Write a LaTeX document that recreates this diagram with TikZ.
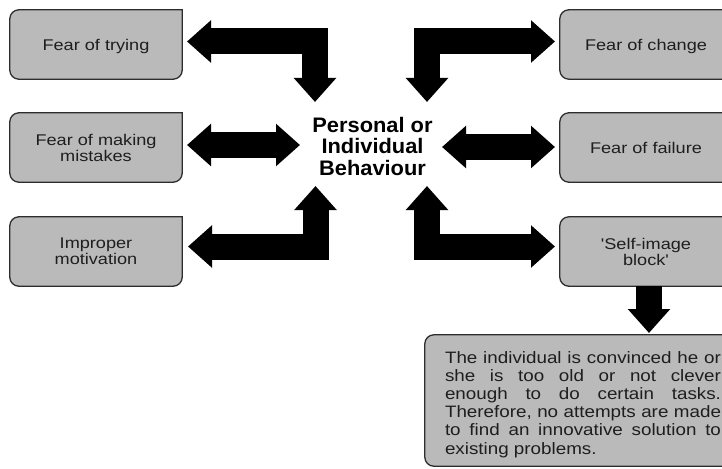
\documentclass[tikz,border=0pt]{standalone}
\usepackage{fontspec}
\setmainfont{Liberation Sans}
\newfontfamily\boxfont[FakeStretch=1.17,Ligatures=TeXOff]{Liberation Sans}
\newfontfamily\descfont[FakeStretch=1.14]{Liberation Sans}
\newfontfamily\hubfont[FakeStretch=1.04]{Liberation Sans}
\usetikzlibrary{arrows.meta,backgrounds}
\definecolor{boxgray}{RGB}{186,186,186}
\definecolor{edgegray}{RGB}{45,45,45}
\definecolor{inkgray}{RGB}{30,30,30}
\begin{document}
\begin{tikzpicture}[x=1pt,y=-1pt,
  box/.style={minimum width=172pt, minimum height=69pt, inner sep=0pt,
    align=center, text=inkgray, font={\boxfont\fontsize{15.5}{16}\selectfont}},
  hub/.style={align=center, inner sep=0pt, text=black,
    font={\hubfont\bfseries\fontsize{21}{21.5}\selectfont}},
  desc/.style={text width=276pt, inner xsep=20pt, inner ysep=0pt,
    minimum height=131pt, align=justify, text=inkgray,
    font={\descfont\fontsize{16.5}{18.2}\selectfont}},
  outline/.style={fill=boxgray, draw=edgegray, line width=1.3pt, line cap=rect},
  Head/.tip={Triangle[length=24pt,width=41pt]},
  bigarrow/.style={draw=black, line width=26pt, line join=miter, -Head},
  twoway/.style={bigarrow, Head-Head},
]
\useasboundingbox (0,0) rectangle (722,468);
\clip (0,0) rectangle (722,468);

% left column of causes
\node[box, text depth=0pt] (trying) at (96,44.5)  {Fear of trying};
\node[box] (mistakes)   at (96,147.5) {Fear of making\\mistakes};
\node[box] (motivation) at (96,251.5) {Improper\\motivation};

% right column of causes
\node[box, text depth=0pt] (change) at (646,44.5)  {Fear of change};
\node[box] (failure)   at (646,147.5) {Fear of failure};
\node[box] (selfimage) at (646,251.5) {'Self-image\\block'};

% explanation of the self-image block (the strut lowers the text block a little)
\node[desc] (consequence) at (583,400.5) {\hyphenpenalty=10000
  \rule{0pt}{19.5pt}The individual is convinced he or\linebreak
  she is too old or not clever\linebreak
  enough to do certain tasks.\linebreak
  Therefore, no attempts are made\linebreak
  to find an innovative solution to\linebreak
  existing problems.};

% central topic
\node[hub] (behaviour) at (372.5,146) {Personal or\\Individual\\Behaviour};

% grey boxes: every corner rounded except the top right one
\begin{scope}[on background layer]
  \foreach \n in {trying,mistakes,motivation,change,failure,selfimage,consequence}
    \path[outline] (\n.north east) [rounded corners=9pt]
      -- (\n.south east) -- (\n.south west) -- (\n.north west) -- (\n.north east);
\end{scope}

% arrow end points
\coordinate (tryingEnd)     at (187,41.5);
\coordinate (topLeftEnd)    at (315,102);
\coordinate (topRightEnd)   at (427,102);
\coordinate (changeEnd)     at (555,41.5);
\coordinate (mistakesEnd)   at (187,145);
\coordinate (midLeftEnd)    at (300,145);
\coordinate (midRightEnd)   at (442,147);
\coordinate (failureEnd)    at (555,147);
\coordinate (motivationEnd) at (188,246.5);
\coordinate (lowLeftEnd)    at (315.5,186);
\coordinate (lowRightEnd)   at (427,186);
\coordinate (selfimageEnd)  at (555,246.5);
\coordinate (consequenceEnd) at (649,333);

% block arrows
\draw[twoway] (tryingEnd) -| (topLeftEnd);
\draw[twoway] (topRightEnd) |- (changeEnd);
\draw[twoway] (mistakesEnd) -- (midLeftEnd);
\draw[twoway] (midRightEnd) -- (failureEnd);
\draw[twoway] (motivationEnd) -| (lowLeftEnd);
\draw[twoway] (lowRightEnd) |- (selfimageEnd);
\draw[bigarrow] (selfimage.south -| consequenceEnd) -- (consequenceEnd);
\end{tikzpicture}
\end{document}
